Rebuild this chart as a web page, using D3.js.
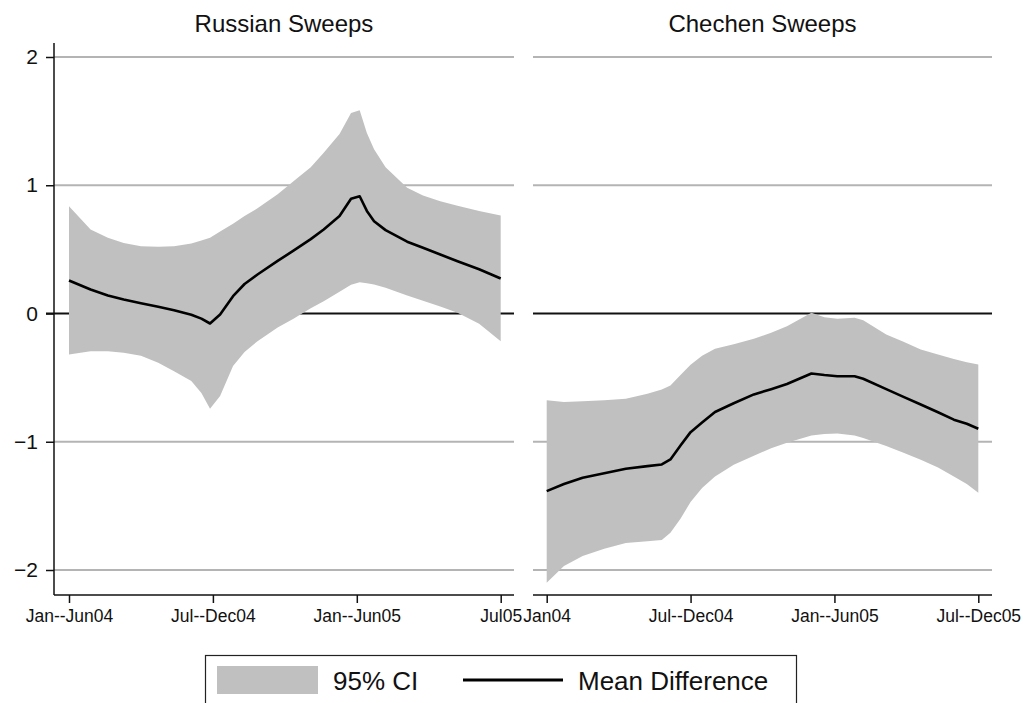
<!DOCTYPE html>
<html>
<head>
<meta charset="utf-8">
<script src="https://cdn.jsdelivr.net/npm/d3@7"></script>
<style>
  body { margin: 0; background: #fff; }
  svg { font-family: "Liberation Sans", Arial, sans-serif; }
</style>
</head>
<body>
<div id="chart"></div>
<script>
// x tick labels per panel
const russianTicks = ["Jan--Jun04", "Jul--Dec04", "Jan--Jun05", "Jul05"];
const chechenTicks = ["Jan04", "Jul--Dec04", "Jan--Jun05", "Jul--Dec05"];
const yTicks = [-2, -1, 0, 1, 2];

// Russian sweeps (position along axis, mean, lower, upper)
const russianT = [0, 0.15, 0.27, 0.38, 0.5, 0.62, 0.73, 0.85, 0.92, 0.98, 1.05, 1.14, 1.22, 1.31, 1.45, 1.56, 1.68, 1.77, 1.88, 1.96, 2.02, 2.07, 2.12, 2.2, 2.35, 2.46, 2.58, 2.7, 2.85, 3.0];
const russianMean = [0.257, 0.187, 0.14, 0.109, 0.08, 0.052, 0.025, -0.01, -0.04, -0.078, -0.008, 0.135, 0.23, 0.304, 0.41, 0.49, 0.58, 0.655, 0.76, 0.894, 0.914, 0.8, 0.72, 0.65, 0.56, 0.512, 0.46, 0.408, 0.345, 0.273];
const russianLo = [-0.32, -0.294, -0.295, -0.306, -0.33, -0.384, -0.45, -0.527, -0.62, -0.743, -0.644, -0.41, -0.3, -0.216, -0.11, -0.04, 0.04, 0.096, 0.17, 0.225, 0.244, 0.235, 0.226, 0.2, 0.14, 0.1, 0.055, 0.005, -0.08, -0.216];
const russianHi = [0.836, 0.655, 0.59, 0.55, 0.525, 0.52, 0.525, 0.545, 0.57, 0.59, 0.64, 0.7, 0.76, 0.82, 0.93, 1.031, 1.14, 1.253, 1.4, 1.564, 1.585, 1.408, 1.28, 1.14, 0.98, 0.92, 0.875, 0.84, 0.8, 0.764];

// Chechen sweeps
const chechenT = [0, 0.12, 0.25, 0.4, 0.55, 0.7, 0.8, 0.86, 0.93, 1.0, 1.08, 1.17, 1.3, 1.44, 1.56, 1.67, 1.84, 1.93, 2.02, 2.14, 2.2, 2.36, 2.48, 2.6, 2.72, 2.83, 2.92, 3.0];
const chechenMean = [-1.385, -1.33, -1.28, -1.245, -1.21, -1.19, -1.177, -1.138, -1.03, -0.925, -0.85, -0.768, -0.7, -0.631, -0.59, -0.55, -0.468, -0.48, -0.489, -0.489, -0.509, -0.59, -0.65, -0.71, -0.77, -0.828, -0.86, -0.899];
const chechenLo = [-2.099, -1.969, -1.89, -1.835, -1.79, -1.775, -1.767, -1.71, -1.6, -1.47, -1.36, -1.27, -1.18, -1.11, -1.05, -1.008, -0.951, -0.94, -0.935, -0.951, -0.97, -1.034, -1.085, -1.14, -1.2, -1.27, -1.33, -1.398];
const chechenHi = [-0.676, -0.691, -0.685, -0.676, -0.665, -0.625, -0.592, -0.561, -0.48, -0.4, -0.33, -0.275, -0.24, -0.197, -0.15, -0.099, 0.005, -0.03, -0.041, -0.034, -0.052, -0.164, -0.22, -0.281, -0.32, -0.355, -0.38, -0.398];

const width = 1023, height = 703;
const svg = d3.select("#chart").append("svg")
  .attr("width", width)
  .attr("height", height);

const y = d3.scaleLinear().domain([-2, 2]).range([570, 57]);
const plotTop = 43, plotBottom = 595;

const panels = [
  { title: "Russian Sweeps", left: 54, right: 514, x0: 69, x1: 500.7, ticks: russianTicks,
    t: russianT, mean: russianMean, lo: russianLo, hi: russianHi, yAxis: true },
  { title: "Chechen Sweeps", left: 533, right: 992, x0: 546.7, x1: 978.3, ticks: chechenTicks,
    t: chechenT, mean: chechenMean, lo: chechenLo, hi: chechenHi, yAxis: false }
];

panels.forEach(p => {
  const x = d3.scaleLinear().domain([0, 3]).range([p.x0, p.x1]);
  const g = svg.append("g");
  const rows = p.t.map((t, i) => ({ t, m: p.mean[i], lo: p.lo[i], hi: p.hi[i] }));

  // gridlines
  g.selectAll(".grid")
    .data(yTicks.filter(d => d !== 0))
    .enter().append("line")
    .attr("x1", p.left).attr("x2", p.right)
    .attr("y1", d => y(d)).attr("y2", d => y(d))
    .attr("stroke", "#b4b4b4").attr("stroke-width", 2);

  // zero line
  g.append("line")
    .attr("x1", p.yAxis ? 46 : p.left).attr("x2", p.right)
    .attr("y1", y(0)).attr("y2", y(0))
    .attr("stroke", "#111").attr("stroke-width", 2);

  // CI band
  g.append("path")
    .datum(rows)
    .attr("fill", "#c0c0c0")
    .attr("d", d3.area().x(d => x(d.t)).y0(d => y(d.lo)).y1(d => y(d.hi)));

  // mean line
  g.append("path")
    .datum(rows)
    .attr("fill", "none")
    .attr("stroke", "#000")
    .attr("stroke-width", 2.6)
    .attr("stroke-linejoin", "round")
    .attr("d", d3.line().x(d => x(d.t)).y(d => y(d.m)));

  // x axis
  const xAxis = g.append("g")
    .attr("transform", `translate(0,${plotBottom})`)
    .call(d3.axisBottom(x).tickValues([0, 1, 2, 3])
      .tickFormat(i => p.ticks[i]).tickSize(8).tickPadding(7));
  xAxis.select(".domain").remove();
  xAxis.selectAll("line").attr("stroke", "#111").attr("stroke-width", 1.5);
  xAxis.selectAll("text").attr("font-size", 17.5).attr("fill", "#111")
    .attr("font-family", "Liberation Sans, Arial, sans-serif");
  g.append("line")
    .attr("x1", p.left).attr("x2", p.right)
    .attr("y1", plotBottom).attr("y2", plotBottom)
    .attr("stroke", "#111").attr("stroke-width", 1.5);

  if (p.yAxis) {
    const yAxis = g.append("g")
      .attr("transform", `translate(${p.left},0)`)
      .call(d3.axisLeft(y).tickValues(yTicks)
        .tickFormat(d => d < 0 ? "\u2212" + Math.abs(d) : d).tickSize(8).tickPadding(8));
    yAxis.select(".domain").remove();
    yAxis.selectAll("line").attr("stroke", "#111").attr("stroke-width", 1.5);
    yAxis.selectAll("text").attr("font-size", 21).attr("fill", "#111")
      .attr("font-family", "Liberation Sans, Arial, sans-serif");
    g.append("line")
      .attr("x1", p.left).attr("x2", p.left)
      .attr("y1", plotTop).attr("y2", plotBottom)
      .attr("stroke", "#111").attr("stroke-width", 1.5);
  }

  // title
  g.append("text")
    .attr("x", (p.left + p.right) / 2)
    .attr("y", 32)
    .attr("text-anchor", "middle")
    .attr("font-size", 24)
    .attr("fill", "#111")
    .text(p.title);
});

// legend
const lg = svg.append("g");
lg.append("rect")
  .attr("x", 205.5).attr("y", 655.5).attr("width", 591).attr("height", 60)
  .attr("fill", "#fff").attr("stroke", "#222").attr("stroke-width", 1.2);
lg.append("rect")
  .attr("x", 217).attr("y", 666).attr("width", 101).attr("height", 28)
  .attr("fill", "#c0c0c0");
lg.append("text")
  .attr("x", 333).attr("y", 690)
  .attr("font-size", 26).attr("fill", "#111")
  .text("95% CI");
lg.append("line")
  .attr("x1", 463).attr("x2", 563).attr("y1", 680).attr("y2", 680)
  .attr("stroke", "#000").attr("stroke-width", 3);
lg.append("text")
  .attr("x", 578).attr("y", 690)
  .attr("font-size", 26).attr("fill", "#111")
  .text("Mean Difference");
</script>
</body>
</html>
